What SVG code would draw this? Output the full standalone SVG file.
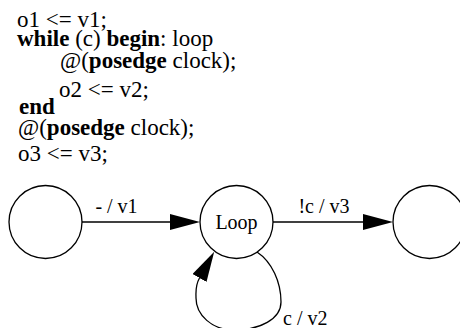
<svg xmlns="http://www.w3.org/2000/svg" width="460" height="328" viewBox="0 0 460 328">
<style>
.code{font-family:"Liberation Serif","Times New Roman",serif;font-size:23px;fill:#000}
.b{font-weight:bold}
.lbl{font-family:"Liberation Serif","Times New Roman",serif;font-size:20px;fill:#000}
.node{fill:#fff;stroke:#000;stroke-width:1.3}
.edge{fill:none;stroke:#000;stroke-width:1.3}
</style>
<defs>
<marker id="arr" markerUnits="userSpaceOnUse" markerWidth="30" markerHeight="16" viewBox="0 0 30 16" refX="0" refY="8" orient="auto">
<path d="M0,0 L30,8 L0,16 z" fill="#000"/>
</marker>
</defs>
<rect width="460" height="328" fill="#fff"/>
<g id="code">
<text class="code" x="17" y="27">o1 &lt;= v1;</text>
<text class="code" x="17" y="46"><tspan class="b">while</tspan> (c) <tspan class="b">begin</tspan>: loop</text>
<text class="code" x="60" y="68">@(<tspan class="b">posedge</tspan> clock);</text>
<text class="code" x="59" y="97">o2 &lt;= v2;</text>
<text class="code b" x="19" y="114">end</text>
<text class="code" x="18" y="135">@(<tspan class="b">posedge</tspan> clock);</text>
<text class="code" x="18" y="161">o3 &lt;= v3;</text>
</g>
<g id="connectors">
<g id="e1"><path class="edge" d="M82,222 L170,222" marker-end="url(#arr)"/><text class="lbl" x="116.5" y="213" text-anchor="middle">- / v1</text></g>
<g id="e2"><path class="edge" d="M273,222 L363,222" marker-end="url(#arr)"/><text class="lbl" x="324" y="213" text-anchor="middle">!c / v3</text></g>
<g id="e3"><path class="edge" d="M257,252 C272,262 281,282 281,302 C281,319 260,330 234,330 C212,330 196,315 196,298 C196,292 195,286 199.5,278" marker-end="url(#arr)"/><text class="lbl" x="283" y="325">c / v2</text></g>
</g>
<g id="start"><circle class="node" cx="45.5" cy="222" r="36.5"/></g>
<g id="loop"><circle class="node" cx="236.5" cy="222" r="36.5"/><text class="lbl" x="236.5" y="229" text-anchor="middle">Loop</text></g>
<g id="end"><circle class="node" cx="429.5" cy="222" r="36.5"/></g>
</svg>
